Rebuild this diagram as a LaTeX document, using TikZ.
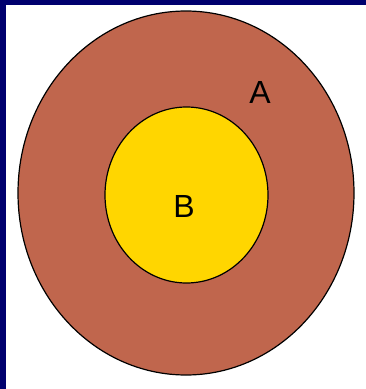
\documentclass[tikz,border=0pt]{standalone}
\usepackage{fontspec}
\setmainfont{Liberation Sans}
\usetikzlibrary{shapes.geometric}
\definecolor{frameblue}{RGB}{0,0,110}
\definecolor{setbrown}{RGB}{192,102,77}
\definecolor{setgold}{RGB}{255,214,0}
\begin{document}
\begin{tikzpicture}[
  x=1pt, y=-1pt,
  set/.style={ellipse, draw=black, line width=1.2pt, inner sep=0pt},
  every node/.style={font=\fontsize{32}{36}\selectfont}
]
\useasboundingbox (0,0) rectangle (366,389);
\fill[white] (0,0) rectangle (366,389);
\fill[frameblue] (0,0) rectangle (6,389);
\fill[frameblue] (0,0) rectangle (366,5);
\node[set, fill=setbrown, minimum width=336pt, minimum height=364pt] (A) at (186,193) {};
\node[set, fill=setgold, minimum width=163pt, minimum height=176pt] (B) at (186.5,195) {};
\node (labelA) at (260,92) {A};
\node (labelB) at (184,206) {B};
\end{tikzpicture}
\end{document}
